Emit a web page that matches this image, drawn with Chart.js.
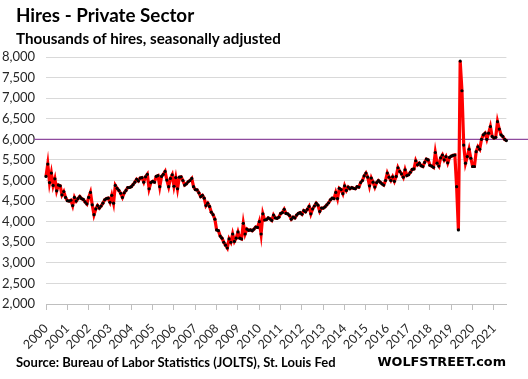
<!DOCTYPE html>
<html><head><meta charset="utf-8">
<script src="https://cdn.jsdelivr.net/npm/chart.js@4"></script>
<style>
html,body{margin:0;padding:0;background:#fff;}
#wrap{position:relative;width:528px;height:379px;overflow:hidden;background:#fff;}
canvas{position:absolute;left:0;top:0;}
.t{position:absolute;white-space:nowrap;font-family:Lato,"Open Sans",sans-serif;font-weight:700;color:#000;}
</style></head><body>
<div id="wrap">
<canvas id="c" width="528" height="379"></canvas>
<div class="t" style="left:16px;top:3.5px;font-size:18.8px;line-height:22.6px">Hires - Private Sector</div>
<div class="t" style="left:16px;top:28.5px;font-size:15.2px;line-height:18.2px">Thousands of hires, seasonally adjusted</div>
<div class="t" style="left:16px;top:355px;font-size:13px;line-height:15.6px">Source: Bureau of Labor Statistics (JOLTS), St. Louis Fed</div>
<div class="t" style="right:22px;top:354.5px;font-size:12.8px;line-height:14.5px;font-family:'DejaVu Sans',sans-serif">WOLFSTREET.com</div>
</div>
<script>
// Monthly private-sector hires (thousands), Dec 2000 - Jul 2022
const startYear = 2000, startMonth = 12;
const hires2000 = [5100];
const hires2001 = [5400,4950,5180,4880,5040,4750,4890,4870,4650,4730,4590,4510];
const hires2002 = [4500,4520,4390,4590,4500,4560,4610,4560,4540,4480,4430,4590];
const hires2003 = [4710,4410,4170,4310,4390,4330,4380,4450,4530,4560,4570,4470];
const hires2004 = [4640,4450,4880,4810,4760,4690,4590,4700,4760,4830,4830,4850];
const hires2005 = [4900,4960,5030,4990,5060,5070,4960,5090,5150,4800,4950,4980];
const hires2006 = [4960,5100,5120,4850,5100,5150,5220,5010,4850,5050,5140,4860];
const hires2007 = [5070,4800,5080,5090,5000,4890,4920,4970,5000,5050,4850,4780];
const hires2008 = [4770,4700,4610,4640,4570,4390,4450,4370,4230,4170,4060,3800];
const hires2009 = [3780,3650,3600,3500,3430,3360,3580,3500,3700,3520,3600,3750];
const hires2010 = [3600,3580,3960,3700,3820,3790,3800,3780,3820,3870,3860,4000];
const hires2011 = [3700,4190,4040,4050,4090,4070,4030,4160,4090,4080,4110,4200];
const hires2012 = [4220,4300,4200,4190,4150,4060,4110,4090,4160,4200,4220,4180];
const hires2013 = [4270,4240,4300,4370,4190,4310,4380,4450,4400,4250,4330,4330];
const hires2014 = [4360,4410,4460,4530,4570,4560,4710,4560,4810,4780,4680,4870];
const hires2015 = [4760,4840,4800,4830,4810,4800,4850,4840,4950,5000,5110,5180];
const hires2016 = [5080,4870,5060,4960,4840,4950,5000,4960,4920,4890,5000,5180];
const hires2017 = [5080,5000,5090,4980,5100,5310,5220,5160,5080,5260,5120,5140];
const hires2018 = [5200,5270,5280,5480,5380,5420,5360,5340,5440,5520,5500,5370];
const hires2019 = [5350,5320,5680,5420,5350,5550,5620,5500,5580,5430,5560,5590];
const hires2020 = [5610,5620,4850,3800,7900,7180,5860,5420,5580,5760,5540,5340];
const hires2021 = [5340,5700,5820,5760,6000,6110,6150,6000,6150,6310,6070,6030];
const hires2022 = [6050,6430,6250,6110,6070,6000,5970];
const hires = [].concat(hires2000,hires2001,hires2002,hires2003,hires2004,hires2005,hires2006,
  hires2007,hires2008,hires2009,hires2010,hires2011,hires2012,hires2013,hires2014,hires2015,
  hires2016,hires2017,hires2018,hires2019,hires2020,hires2021,hires2022);
const yMin = 2000, yMax = 8000, yStep = 500;
const refValue = 6000;

const labels = hires.map((v,i)=>{
  const k = startMonth-1+i;
  return (startYear+Math.floor(k/12)) + '-' + String(k%12+1).padStart(2,'0');
});

const refLine = {
  id:'refLine',
  beforeDatasetsDraw(chart){
    const y = chart.scales.y.getPixelForValue(refValue);
    const ctx = chart.ctx;
    ctx.save();
    ctx.strokeStyle = '#8e4a9e';
    ctx.lineWidth = 1.3;
    ctx.beginPath();
    ctx.moveTo(34, y); ctx.lineTo(528, y);
    ctx.stroke();
    ctx.restore();
  }
};

new Chart(document.getElementById('c'), {
  type:'line',
  data:{ labels, datasets:[{
    data:hires, borderColor:'#ff0000', borderWidth:3.2, tension:0,
    pointRadius:1.6, pointBackgroundColor:'#000', pointBorderWidth:0,
    pointHoverRadius:0, clip:false
  }]},
  options:{
    responsive:false, animation:false, devicePixelRatio:1,
    layout:{ padding:{ left:0, top:57, right:6, bottom:0 } },
    plugins:{ legend:{display:false}, tooltip:{enabled:false}, title:{display:false} },
    events:[],
    scales:{
      x:{
        type:'category', offset:false,
        grid:{ drawOnChartArea:false, drawTicks:true, tickLength:6,
          tickColor:(c)=> (c.index % 12 === 0 ? '#bfbfbf' : 'rgba(0,0,0,0)') },
        border:{ display:true, color:'#bfbfbf', width:1 },
        ticks:{ autoSkip:false, maxRotation:45, minRotation:45, padding:11,
          color:'#262626', font:{ family:'Lato', size:12.5 },
          callback:function(v,i){ const l = this.getLabelForValue(v); return l.endsWith('-12') ? l.slice(0,4) : ''; } },
        afterFit:(s)=>{ s.height = 75; }
      },
      y:{
        min:yMin, max:yMax,
        grid:{ color:'#d9d9d9', drawTicks:false, lineWidth:1 },
        border:{ display:false },
        ticks:{ stepSize:yStep, padding:11, color:'#262626', font:{ family:'Lato', size:13 },
          callback:(v)=> v.toLocaleString('en-US') },
        afterFit:(s)=>{ s.width = 46; }
      }
    }
  },
  plugins:[refLine]
});
</script>
</body></html>
